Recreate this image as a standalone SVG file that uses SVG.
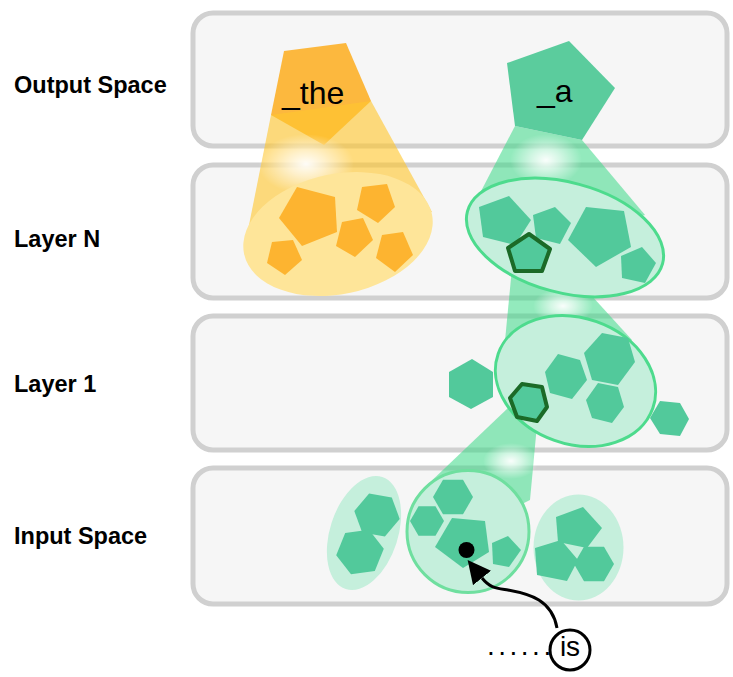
<svg xmlns="http://www.w3.org/2000/svg" width="733" height="677" viewBox="0 0 733 677">
<style>
.panel{fill:#f6f6f6;stroke:#d0d0d0;stroke-width:5}
.lbl{font-family:"Liberation Sans",Arial,sans-serif;font-weight:bold;font-size:23.5px;fill:#000}
.tok{font-family:"Liberation Sans",Arial,sans-serif;font-size:32px;fill:#000}
.org{fill:#fdb430}
.grn{fill:#52c99b}
.ell{fill:#c5efdc}
.ells{fill:#c5efdc;stroke:#4ddb8d;stroke-width:3}
.sel{fill:#52c99b;stroke:#1b6a27;stroke-width:4;stroke-linejoin:round}
.conO{fill:#ffc62e;fill-opacity:0.62}
.conG{fill:#3ad886;fill-opacity:0.55}
</style>
<defs>
<radialGradient id="glow" cx="0.5" cy="0.5" r="0.5">
<stop offset="0" stop-color="#ffffff" stop-opacity="0.95"/>
<stop offset="0.4" stop-color="#ffffff" stop-opacity="0.6"/>
<stop offset="1" stop-color="#ffffff" stop-opacity="0"/>
</radialGradient>
<marker id="ah" markerUnits="userSpaceOnUse" markerWidth="23" markerHeight="23" viewBox="0 0 23 23" refX="0" refY="11.5" orient="auto">
<path d="M0,0 L23,11.5 L0,23 z" fill="#000"/>
</marker>
</defs>

<g id="panel-output"><rect class="panel" x="193" y="13" width="534" height="133" rx="20"/><text class="lbl" x="14" y="93">Output Space</text></g>
<g id="panel-layerN"><rect class="panel" x="193" y="165" width="534" height="133" rx="20"/><text class="lbl" x="14" y="247">Layer N</text></g>
<g id="panel-layer1"><rect class="panel" x="193" y="316" width="534" height="134" rx="20"/><text class="lbl" x="14" y="392">Layer 1</text></g>
<g id="panel-input"><rect class="panel" x="193" y="468" width="534" height="136" rx="20"/><text class="lbl" x="14" y="544">Input Space</text></g>

<g id="out-the-shape"><polygon fill="#fcb83e" points="284,51 346,43 371,101 324,145 271,115"/></g>

<g id="beams">
<polygon class="conO" points="271,115 371,101 432,212 340,240 247,235"/>
<ellipse cx="306" cy="164" rx="48" ry="30" fill="url(#glow)"/>
<polygon class="conG" points="515,126 582,140 645,215 565,240 466,220"/>
<ellipse cx="546" cy="160" rx="36" ry="26" fill="url(#glow)"/>
<polygon class="conG" points="512,268 550,250 632,340 575,380 502,372"/>
<ellipse cx="563" cy="306" rx="30" ry="18" fill="url(#glow)"/>
<polygon class="conG" points="508,408 538,414 530,500 470,530 424,488"/>
<ellipse cx="511" cy="461" rx="28" ry="18" fill="url(#glow)"/>
</g>

<g id="out-a"><polygon fill="#5bcc9d" points="507,63 569,41 615,88 582,140 515,126"/><text class="tok" x="537" y="102">_a</text></g>
<g id="out-the"><text class="tok" x="282" y="104">_the</text></g>

<g id="layerN-orange">
<ellipse cx="338" cy="234" rx="96" ry="60" transform="rotate(-12 338 234)" fill="#fee599"/>
<polygon class="org" points="279,218 297,187 335,197 337,232 302,246"/>
<polygon class="org" points="362,187 387,184 395,207 378,223 357,210"/>
<polygon class="org" points="342,222 363,218 373,240 355,257 336,246"/>
<polygon class="org" points="272,242 293,240 302,260 285,275 267,263"/>
<polygon class="org" points="382,235 403,232 413,255 395,272 376,258"/>
</g>

<g id="layerN-green">
<ellipse class="ells" cx="565" cy="237.5" rx="101" ry="55" transform="rotate(15 565 237.5)"/>
<polygon class="grn" points="479,207 509,196 531,220 515,245 483,237"/>
<polygon class="grn" points="533,215 555,207 571,223 560,244 536,238"/>
<polygon class="grn" points="586,207 624,211 631,247 596,267 568,240"/>
<polygon class="grn" points="621,256 642,247 656,263 645,283 622,278"/>
<polygon class="sel" points="529,234 550,249 542,271 515,271 508,248"/>
</g>

<g id="layer1">
<polygon class="grn" points="449,372 472,359 493,372 493,397 471,409 449,397"/>
<polygon class="grn" points="650,418 660,401 680,403 689,419 680,436 660,434"/>
<ellipse class="ells" cx="575.5" cy="381" rx="82" ry="63" transform="rotate(19.5 575.5 381)"/>
<polygon class="grn" points="545,372 558,354 580,360 587,380 572,399 550,393"/>
<polygon class="grn" points="584,353 602,333 628,338 635,362 618,385 592,380"/>
<polygon class="grn" points="586,400 598,383 618,387 624,407 612,423 592,418"/>
<polygon class="sel" points="510,398 522,384 542,387 547,407 537,421 517,417"/>
</g>

<g id="input-left">
<ellipse class="ell" cx="364" cy="533" rx="34" ry="59" transform="rotate(18 364 533)"/>
<polygon class="grn" points="399.7,519 384.9,536.6 362.2,532.6 354.3,511 369.1,493.4 391.8,497.4"/>
<polygon class="grn" points="383.8,548.7 374.8,570.9 351,574.2 336.2,555.3 345.2,533.1 369,529.8"/>
</g>

<g id="input-center">
<circle cx="468" cy="531.5" r="61" fill="#c5efdc" stroke="#6fdf9f" stroke-width="3"/>
<polygon class="grn" points="473,497 463,514.3 443,514.3 433,497 443,479.7 463,479.7"/>
<polygon class="grn" points="444,521 435.5,535.7 418.5,535.7 410,521 418.5,506.3 435.5,506.3"/>
<polygon class="grn" points="435,547 452,518 485,521 489,552 463,568"/>
<polygon class="grn" points="492,543 508,536 521,550 509,567 493,564"/>
<circle cx="466.5" cy="550" r="8" fill="#000"/>
</g>

<g id="input-right">
<ellipse class="ell" cx="578.5" cy="547.5" rx="45" ry="53"/>
<polygon class="grn" points="556,517 583,507 602,528 587,548 558,542"/>
<polygon class="grn" points="535,548 561,540 578,560 567,581 537,575"/>
<polygon class="grn" points="614,564 604,581.3 584,581.3 574,564 584,546.7 604,546.7"/>
</g>

<g id="connectors">
<path d="M557,628 C552,600 530,594 508,590 C496,588 490,588 482,578" fill="none" stroke="#000" stroke-width="3" marker-end="url(#ah)"/>
</g>

<g id="token-is">
<circle cx="570" cy="650" r="20" fill="#fff" stroke="#000" stroke-width="3"/>
<text x="570" y="656" text-anchor="middle" font-family="'Liberation Sans',Arial,sans-serif" font-size="28">is</text>
<text x="487" y="655" font-family="'Liberation Sans',Arial,sans-serif" font-size="28" letter-spacing="3.5">......</text>
</g>
</svg>
